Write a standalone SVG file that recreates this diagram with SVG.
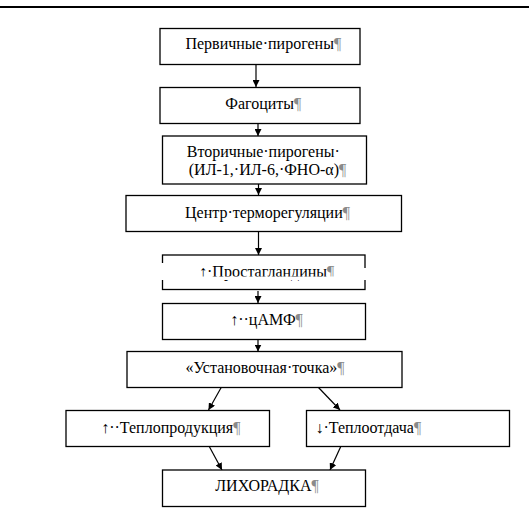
<svg xmlns="http://www.w3.org/2000/svg" width="529" height="516" viewBox="0 0 529 516">
<defs>
<style>
.box{fill:#fff;stroke:#000;stroke-width:1.3}
.t{font-family:"Liberation Serif","Times New Roman",serif;font-size:16px;fill:#000;text-anchor:middle}
.p{fill:#8a8a8a}
.c{stroke:#000;stroke-width:1.2;fill:none;marker-end:url(#ah)}
</style>
<marker id="ah" viewBox="0 0 10 10" refX="10" refY="5" markerWidth="7" markerHeight="7" markerUnits="userSpaceOnUse" orient="auto">
<path d="M0,0 L10,5 L0,10 z" fill="#000"/>
</marker>
</defs>
<rect width="529" height="516" fill="#fff"/>
<line x1="0" y1="7" x2="529" y2="7" stroke="#000" stroke-width="2"/>
<g id="connectors">
<line class="c" x1="256" y1="64" x2="256" y2="87"/>
<line class="c" x1="258" y1="123" x2="258" y2="136"/>
<line class="c" x1="258.5" y1="184" x2="258.5" y2="195"/>
<line class="c" x1="258.5" y1="231" x2="258.5" y2="255"/>
<line class="c" x1="258" y1="291" x2="258" y2="303"/>
<line class="c" x1="258" y1="339" x2="258" y2="351.5"/>
<line class="c" x1="221.5" y1="387" x2="208.5" y2="410"/>
<line class="c" x1="318" y1="387" x2="340" y2="410"/>
<line class="c" x1="209" y1="446" x2="222" y2="470"/>
<line class="c" x1="341" y1="446" x2="330" y2="470"/>
</g>
<g id="n1"><rect class="box" x="160" y="28.5" width="200" height="36"/><text class="t" x="263.3" y="48.5">Первичные·пирогены<tspan class="p">¶</tspan></text></g>
<g id="n2"><rect class="box" x="160" y="87.5" width="200" height="36"/><text class="t" x="263.3" y="109">Фагоциты<tspan class="p">¶</tspan></text></g>
<g id="n3"><rect class="box" x="162.5" y="136" width="204" height="48"/><text class="t" x="263.3" y="156.5">Вторичные·пирогены·</text><text class="t" x="267.5" y="175">(ИЛ-1,·ИЛ-6,·ФНО-α)<tspan class="p">¶</tspan></text></g>
<g id="n4"><rect class="box" x="126" y="195.5" width="275.5" height="36"/><text class="t" x="267.5" y="217.5">Центр·терморегуляции<tspan class="p">¶</tspan></text></g>
<g id="n5"><rect class="box" x="162.5" y="255" width="202.5" height="34.5"/><text class="t" x="266.7" y="277">↑·Простагландины<tspan class="p">¶</tspan></text>
<rect x="158" y="263" width="8" height="17" fill="#fff"/><rect x="361" y="268" width="8" height="12" fill="#fff"/><rect x="166" y="276.5" width="195" height="3.5" fill="#fff"/></g>
<g id="n6"><rect class="box" x="162.5" y="303.5" width="203" height="36"/><text class="t" x="266.5" y="325">↑··цАМФ<tspan class="p">¶</tspan></text></g>
<g id="n7"><rect class="box" x="127" y="351.5" width="275" height="36"/><text class="t" x="265" y="373.3">«Установочная·точка»<tspan class="p">¶</tspan></text></g>
<g id="n8"><rect class="box" x="66" y="410.5" width="203.5" height="36"/><text class="t" x="170.8" y="433">↑··Теплопродукция<tspan class="p">¶</tspan></text></g>
<g id="n9"><rect class="box" x="306.5" y="410.5" width="203" height="36"/><text class="t" x="368.3" y="433">↓·Теплоотдача<tspan class="p">¶</tspan></text></g>
<g id="n10"><rect class="box" x="162.5" y="470" width="203" height="36.5"/><text class="t" x="267" y="491">ЛИХОРАДКА<tspan class="p">¶</tspan></text></g>
</svg>
